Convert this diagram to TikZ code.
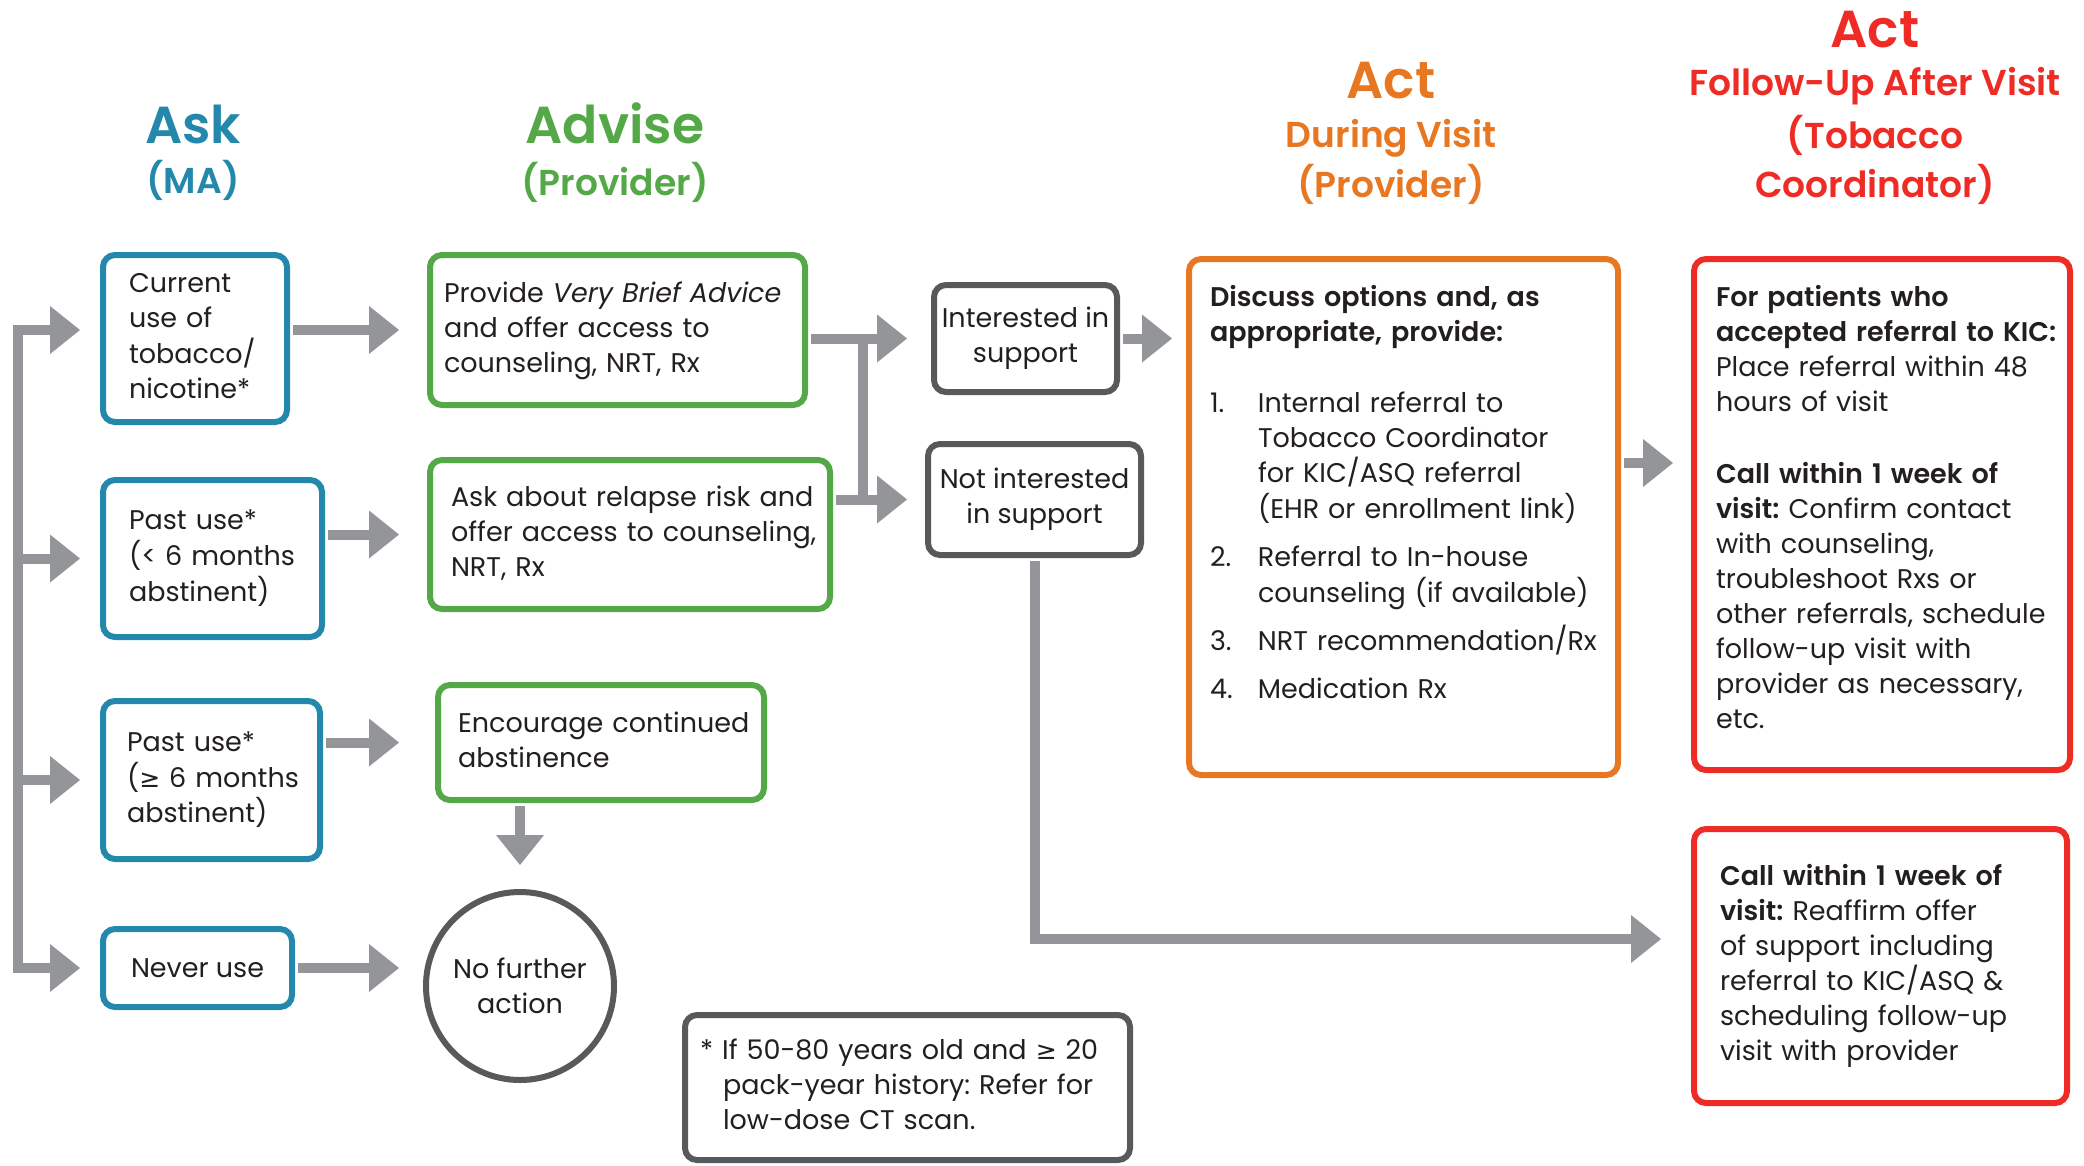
\documentclass[tikz,border=0pt]{standalone}
\usepackage{fontspec}
\setmainfont{Poppins}[BoldFont={Poppins SemiBold}]
\newfontfamily\symfont{DejaVu Sans}
\usetikzlibrary{arrows.meta}
\definecolor{askblue}{RGB}{35,136,171}
\definecolor{advgreen}{RGB}{84,168,71}
\definecolor{actorange}{RGB}{232,119,34}
\definecolor{actred}{RGB}{238,43,36}
\definecolor{boxgray}{RGB}{88,89,91}
\definecolor{arrowgray}{RGB}{147,149,152}
\definecolor{inkgray}{RGB}{35,31,32}
\newcommand{\boxfont}{\fontsize{27}{35}\selectfont}
\newcommand{\headfont}{\bfseries\fontsize{52}{60}\selectfont}
\newcommand{\subfont}{\bfseries\fontsize{36}{44}\selectfont}
\newcommand{\boxlines}[1]{\begin{tabular}{@{}l@{}}#1\end{tabular}}
\newcommand{\toplines}[1]{\begin{tabular}[t]{@{}l@{}}#1\end{tabular}}
\newcommand{\geqsym}{{\symfont\fontsize{25}{35}\selectfont ≥}}

\begin{document}
\frenchspacing
\begin{tikzpicture}[x=1pt, y=-1pt,
  card/.style={draw, line width=6pt, rounded corners=12pt, fill=white, inner ysep=0pt, align=left, font=\boxfont, text=inkgray},
  askbox/.style={card, draw=askblue},
  advbox/.style={card, draw=advgreen},
  gatebox/.style={card, draw=boxgray, align=center, inner xsep=0pt},
  duringbox/.style={card, draw=actorange},
  followbox/.style={card, draw=actred},
  flow/.style={draw=arrowgray, line width=10pt, shorten <=3pt, -{Triangle[length=30pt, width=48pt, line width=0pt]}},
  pipe/.style={draw=arrowgray, line width=10pt},
  head/.style={font=\headfont, anchor=base},
  subhead/.style={font=\subfont, anchor=base}]

\useasboundingbox (0,0) rectangle (2084,1165);

\node[head, text=askblue] (askT) at (193,143) {Ask};
\node[subhead, text=askblue] (askS) at (193,193) {(MA)};
\node[head, text=advgreen] (advT) at (615,143) {Advise};
\node[subhead, text=advgreen] (advS) at (615,195) {(Provider)};
\node[head, text=actorange] (durT) at (1391,98) {Act};
\node[subhead, text=actorange] (durS) at (1391,147) {During Visit};
\node[subhead, text=actorange] (durP) at (1391,197) {(Provider)};
\node[head, text=actred] (folT) at (1875,47) {Act};
\node[subhead, text=actred] (folS) at (1875,95) {Follow-Up After Visit};
\node[subhead, text=actred] (folP) at (1875,148) {(Tobacco};
\node[subhead, text=actred] (folC) at (1875,197) {Coordinator)};

\node[askbox, inner xsep=26pt, text width=132pt, minimum height=167pt] (cur) at (195,338.5) {\boxlines{Current\\use of\\tobacco/\\nicotine*}};
\node[askbox, inner xsep=26pt, text width=167pt, minimum height=157pt] (past1) at (212.5,558.5) {\boxlines{Past use*\\(< 6 months\\abstinent)}};
\node[askbox, inner xsep=24pt, text width=169pt, minimum height=158pt] (past2) at (211.5,780) {\boxlines{Past use*\\(\geqsym{} 6 months\\abstinent)}};
\node[askbox, align=center, inner xsep=0pt, minimum width=189pt, minimum height=78pt] (never) at (197.5,968) {Never use};

\node[advbox, inner xsep=14pt, text width=347pt, minimum height=150pt] (vba) at (617.5,330) {\boxlines{Provide \textit{Very Brief Advice}\\and offer access to\\counseling, NRT, Rx}};
\node[advbox, inner xsep=21pt, text width=358pt, minimum height=149pt] (rel) at (630,534.5) {\boxlines{Ask about relapse risk and\\offer access to counseling,\\NRT, Rx}};
\node[advbox, inner xsep=20pt, text width=286pt, minimum height=115pt] (enc) at (601,742.5) {\boxlines{Encourage continued\\abstinence}};
\node[circle, draw=boxgray, line width=6pt, fill=white, minimum size=188pt, inner sep=0pt, align=center, font=\boxfont, text=inkgray] (nfa) at (520,986) {No further\\action};

\node[gatebox, minimum width=183pt, minimum height=107pt] (intr) at (1025.5,338.5) {Interested in\\support};
\node[gatebox, minimum width=213pt, minimum height=111pt] (notint) at (1034.5,499.5) {Not interested\\in support};

\node[duringbox, anchor=north west, inner xsep=21pt, text width=387pt, text height=47pt, text depth=469pt] (disc) at (1186,256) {\toplines{\textbf{Discuss options and, as}\\\textbf{appropriate, provide:}\\[36pt]
\makebox[48pt][l]{1.}Internal referral to\\\hspace*{48pt}Tobacco Coordinator\\\hspace*{48pt}for KIC/ASQ referral\\\hspace*{48pt}(EHR or enrollment link)\\[13pt]
\makebox[48pt][l]{2.}Referral to In-house\\\hspace*{48pt}counseling (if available)\\[12pt]
\makebox[48pt][l]{3.}NRT recommendation/Rx\\[13pt]
\makebox[48pt][l]{4.}Medication Rx}};
\node[followbox, anchor=north west, inner xsep=22pt, text width=332pt, text height=47pt, text depth=464pt] (fol) at (1691,256) {\toplines{\textbf{For patients who}\\\textbf{accepted referral to KIC:}\\Place referral within 48\\hours of visit\\[37pt]
\textbf{Call within 1 week of}\\\textbf{visit:} Confirm contact\\with counseling,\\troubleshoot Rxs or\\other referrals, schedule\\follow-up visit with\\provider as necessary,\\etc.}};
\node[followbox, inner xsep=26pt, text width=321pt, minimum height=274pt] (reaf) at (1880.5,966) {\boxlines{\textbf{Call within 1 week of}\\\textbf{visit:} Reaffirm offer\\of support including\\referral to KIC/ASQ \&\\scheduling follow-up\\visit with provider}};
\node[card, draw=boxgray, inner xsep=15pt, text width=415pt, minimum height=145pt] (note) at (907.5,1087.5) {\boxlines{* If 50-80 years old and \geqsym{} 20\\\hspace*{23pt}pack-year history: Refer for\\\hspace*{23pt}low-dose CT scan.}};

\coordinate (trunk) at (18,0);
\coordinate (jn) at (863,0);

\draw[pipe, line cap=rect] (trunk |- vba) -- (trunk |- never);
\draw[flow, shorten >=20pt] (trunk |- vba) -- (cur.west |- vba);
\foreach \b in {past1, past2, never}
  \draw[flow, shorten >=20pt] (trunk |- \b.west) -- (\b.west);

\draw[flow, shorten >=28pt] (cur.east |- vba) -- (vba.west);
\draw[flow, shorten >=28pt] (past1.east |- rel) -- (rel.west);
\draw[flow, shorten >=36pt] (past2.east |- enc) -- (enc.west);
\draw[flow, shorten >=24pt] (never.east) -- (never.east -| nfa.west);
\draw[flow, shorten >=24pt] (nfa |- enc.south) -- (nfa.north);

\draw[flow, shorten >=24pt] (vba.east |- intr) -- (intr.west);
\draw[flow, shorten >=18pt] (rel.east |- notint) -- (notint.west);
\draw[pipe] (jn |- intr) -- (jn |- notint);

\draw[flow, shorten >=14pt] (intr.east) -- (intr.east -| disc.west);
\draw[flow, shorten >=18pt] ([yshift=54pt]disc.east) -- ([yshift=54pt]disc.east -| fol.west);
\draw[flow, shorten >=30pt] (notint.south) |- ([yshift=27pt]reaf.west);
%
\end{tikzpicture}
\end{document}
